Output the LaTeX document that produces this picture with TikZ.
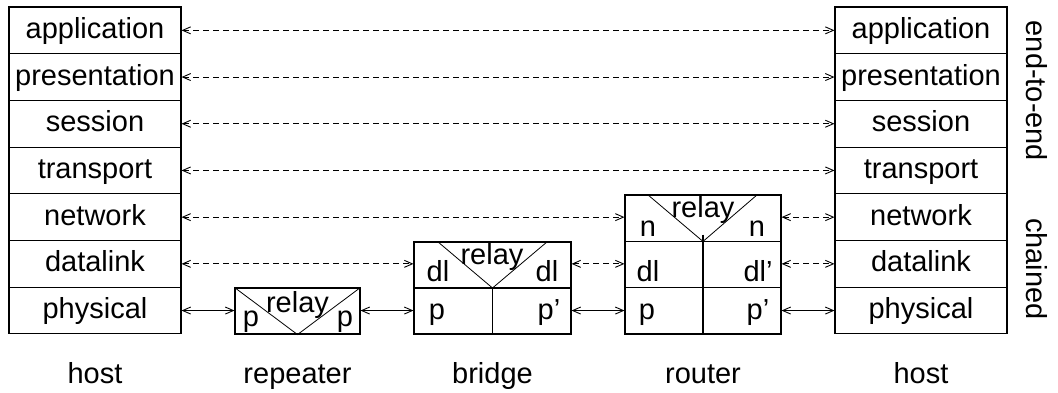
\documentclass[tikz,border=0pt]{standalone}
\usepackage{fontspec}
\setmainfont{Liberation Sans}
\usetikzlibrary{arrows.meta,calc}
\tikzset{
  lbl/.style={font=\fontsize{29}{34}\selectfont, inner sep=0pt},
  txt/.style={lbl, anchor=base},
  layer/.style={draw, line width=1.1pt, minimum width=172pt, minimum height=46.7pt,
    inner sep=0pt, lbl, text height=21pt, text depth=5pt},
  dev/.style={draw, line width=1.1pt, inner sep=0pt},
  inner/.style={line width=1.1pt},
  tri/.style={line width=0.8pt},
  peer/.style={line width=0.9pt, dash pattern=on 6pt off 4pt,
    {Straight Barb[length=8pt,width=7pt]}-{Straight Barb[length=8pt,width=7pt]}},
  link/.style={line width=0.9pt,
    {Straight Barb[length=8pt,width=7pt]}-{Straight Barb[length=8pt,width=7pt]}},
}
\begin{document}
\begin{tikzpicture}[x=1pt,y=-1pt]
\useasboundingbox (0,0) rectangle (1058,393);

% protocol stacks of the two end hosts
\foreach \n/\t [count=\i from 0] in {app/application,pre/presentation,ses/session,tra/transport,net/network,dl/datalink,phy/physical}{
  \node[layer] (L\n) at (95,{30.35+46.7*\i}) {\t};
  \node[layer] (R\n) at (921,{30.35+46.7*\i}) {\t};
}

% repeater
\node[dev, minimum width=125pt, minimum height=46pt] (rep) at (297.5,311) {};
\draw[tri] (rep.north west) -- (rep.south) -- (rep.north east);
\node[txt] (repr) at (297.5,312) {relay};
\node[txt] (repp1) at (251,326) {p};
\node[txt] (repp2) at (345,326) {p};

% bridge
\node[dev, minimum width=157pt, minimum height=92pt] (br) at (492.5,288) {};
\draw[inner] (br.west) -- (br.east);
\draw[inner] (br.center) -- (br.south);
\draw[tri] ($(br.north west)+(24,0)$) -- (br.center) -- ($(br.north east)+(-24,0)$);
\node[txt] (brr) at (492,264) {relay};
\node[txt] (brdl1) at (438,281) {dl};
\node[txt] (brdl2) at (547,281) {dl};
\node[txt] (brp1) at (437,319) {p};
\node[txt] (brp2) at (549,319) {p'};

% router
\node[dev, minimum width=156pt, minimum height=139pt] (rt) at (703,264.5) {};
\coordinate (rtA) at ($(rt.north west)+(0,47)$);
\coordinate (rtB) at ($(rt.north west)+(0,93)$);
\draw[inner] (rtA) -- (rtA -| rt.east);
\draw[inner] (rtB) -- (rtB -| rt.east);
\draw[inner] ($(rt.south)+(0,-100)$) -- (rt.south);
\draw[tri] ($(rt.north west)+(23,0)$) -- (rtA -| rt.south) -- ($(rt.north east)+(-24,0)$);
\node[txt] (rtr) at (703,218) {relay};
\node[txt] (rtn1) at (648,236) {n};
\node[txt] (rtn2) at (757,236) {n};
\node[txt] (rtdl1) at (648,281) {dl};
\node[txt] (rtdl2) at (758,281) {dl'};
\node[txt] (rtp1) at (647,319) {p};
\node[txt] (rtp2) at (758,319) {p'};

% end-to-end peer connections
\foreach \n in {app,pre,ses,tra}{
  \draw[peer] (L\n.east) -- (R\n.west);
}
% chained connections
\draw[peer] (Lnet.east) -- (Lnet.east -| rt.west);
\draw[peer] (Rnet.west -| rt.east) -- (Rnet.west);
\draw[peer] (Ldl.east) -- (Ldl.east -| br.west);
\draw[peer] (Ldl.east -| br.east) -- (Ldl.east -| rt.west);
\draw[peer] (Rdl.west -| rt.east) -- (Rdl.west);
\draw[link] (Lphy.east) -- (Lphy.east -| rep.west);
\draw[link] (Lphy.east -| rep.east) -- (Lphy.east -| br.west);
\draw[link] (Lphy.east -| br.east) -- (Lphy.east -| rt.west);
\draw[link] (Rphy.west -| rt.east) -- (Rphy.west);

% side labels
\node[lbl, rotate=-90] (e2e) at (1037,91) {end-to-end};
\node[lbl, rotate=-90] (chn) at (1037,269) {chained};

% device names
\node[txt] (h1) at (95,383) {host};
\node[txt] (h2) at (297.5,383) {repeater};
\node[txt] (h3) at (492.5,383) {bridge};
\node[txt] (h4) at (703,383) {router};
\node[txt] (h5) at (921,383) {host};
\end{tikzpicture}
\end{document}
